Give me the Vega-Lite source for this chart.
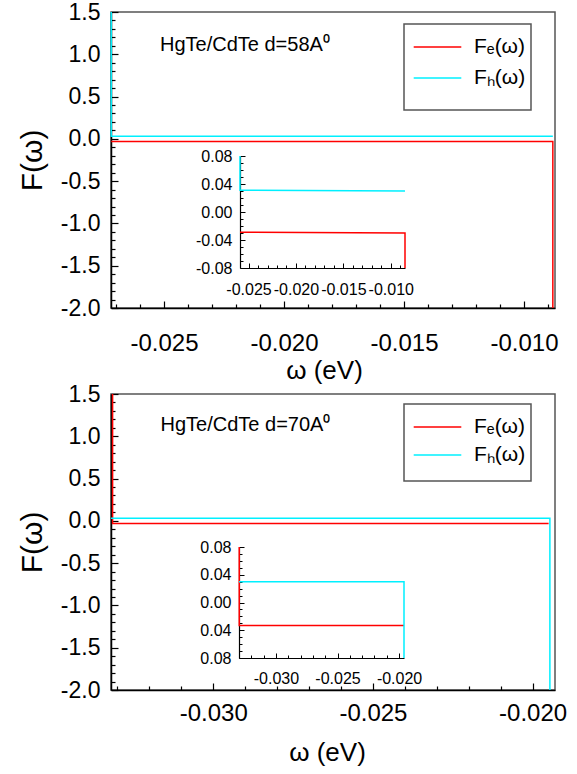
{
  "$schema": "https://vega.github.io/schema/vega-lite/v6.json",
  "padding": {"left": 16, "top": 0, "right": 0, "bottom": 0},
  "background": "white",
  "config": {
    "view": {"stroke": "#555", "strokeWidth": 1.5},
    "font": "Liberation Sans",
    "axis": {"grid": false, "labelColor": "black", "titleColor": "black", "tickColor": "black", "domainColor": "black", "labelOverlap": false, "labelFlush": false, "titleFontWeight": "normal", "labelFont": "Liberation Sans", "titleFont": "Liberation Sans"},
    "legend": {"strokeColor": "#555", "strokeWidth": 1.5, "fillColor": "white", "cornerRadius": 0, "labelFont": "Liberation Sans", "labelColor": "black"}
  },
  "datasets": {
    "lines": [
      {"panel": "d58", "view": "main", "series": "Fe", "i": 0, "omega": -0.0272, "F": -0.03},
      {"panel": "d58", "view": "main", "series": "Fe", "i": 1, "omega": -0.0088, "F": -0.03},
      {"panel": "d58", "view": "main", "series": "Fe", "i": 2, "omega": -0.0088, "F": -2.0},
      {"panel": "d58", "view": "main", "series": "Fh", "i": 0, "omega": -0.0272, "F": 1.5},
      {"panel": "d58", "view": "main", "series": "Fh", "i": 1, "omega": -0.0272, "F": 0.03},
      {"panel": "d58", "view": "main", "series": "Fh", "i": 2, "omega": -0.0088, "F": 0.03},
      {"panel": "d58", "view": "inset", "series": "Fe", "i": 0, "omega": -0.0259, "F": -0.029},
      {"panel": "d58", "view": "inset", "series": "Fe", "i": 1, "omega": -0.0085, "F": -0.03},
      {"panel": "d58", "view": "inset", "series": "Fe", "i": 2, "omega": -0.0085, "F": -0.08},
      {"panel": "d58", "view": "inset", "series": "Fh", "i": 0, "omega": -0.0259, "F": 0.08},
      {"panel": "d58", "view": "inset", "series": "Fh", "i": 1, "omega": -0.0259, "F": 0.031},
      {"panel": "d58", "view": "inset", "series": "Fh", "i": 2, "omega": -0.0085, "F": 0.03},
      {"panel": "d70", "view": "main", "series": "Fe", "i": 0, "omega": -0.03315, "F": 1.5},
      {"panel": "d70", "view": "main", "series": "Fe", "i": 1, "omega": -0.03315, "F": -0.03},
      {"panel": "d70", "view": "main", "series": "Fe", "i": 2, "omega": -0.0195, "F": -0.03},
      {"panel": "d70", "view": "main", "series": "Fh", "i": 0, "omega": -0.0332, "F": 0.03},
      {"panel": "d70", "view": "main", "series": "Fh", "i": 1, "omega": -0.01946, "F": 0.03},
      {"panel": "d70", "view": "main", "series": "Fh", "i": 2, "omega": -0.01946, "F": -2.0},
      {"panel": "d70", "view": "inset", "series": "Fe", "i": 0, "omega": -0.03298, "F": 0.08},
      {"panel": "d70", "view": "inset", "series": "Fe", "i": 1, "omega": -0.03298, "F": -0.033},
      {"panel": "d70", "view": "inset", "series": "Fe", "i": 2, "omega": -0.0196, "F": -0.033},
      {"panel": "d70", "view": "inset", "series": "Fh", "i": 0, "omega": -0.033, "F": 0.03},
      {"panel": "d70", "view": "inset", "series": "Fh", "i": 1, "omega": -0.0196, "F": 0.03},
      {"panel": "d70", "view": "inset", "series": "Fh", "i": 2, "omega": -0.0196, "F": -0.08}
    ],
    "notes": [
      {"panel": "d58", "note": "HgTe/CdTe d=58A⁰"},
      {"panel": "d70", "note": "HgTe/CdTe d=70A⁰"}
    ]
  },
  "spacing": 86,
  "bounds": "flush",
  "resolve": {"scale": {"x": "independent", "y": "independent", "color": "independent", "stroke": "independent"}, "legend": {"color": "independent"}},
  "vconcat": [
    {
      "width": 444,
      "height": 296,
      "resolve": {"scale": {"x": "independent", "y": "independent"}},
      "layer": [
        {
          "data": {"name": "lines"},
          "transform": [{"filter": "datum.panel == 'd58' && datum.view == 'main'"}],
          "mark": {"type": "line", "strokeWidth": 1.5},
          "encoding": {
            "x": {"field": "omega", "type": "quantitative",
              "scale": {"domain": [-0.02721, -0.00871], "nice": false, "zero": false},
              "axis": {"orient": "bottom", "offset": 0, "title": "ω (eV)", "titleFontSize": 26, "titlePadding": 2, "titleX": 213, "titleAlign": "center",
                "values": [-0.025, -0.02, -0.015, -0.01],
                "labelExpr": "'-' + format(abs(datum.value), '.3f')",
                "labelFontSize": 24, "labelPadding": 30.5, "labelDx": -6, "labelOverlap": false, "labelFlush": false,
                "tickSize": -7, "tickWidth": 1.2, "domainWidth": 1.5}},
            "y": {"field": "F", "type": "quantitative",
              "scale": {"domain": [-2, 1.5], "nice": false, "zero": false},
              "axis": {"orient": "left", "offset": 0, "title": "F(ω)", "titleFontSize": 30, "titlePadding": 13,
                "values": [-2, -1.5, -1, -0.5, 0, 0.5, 1, 1.5],
                "labelExpr": "(datum.value < -1e-9 ? '-' : '') + format(abs(datum.value), '.1f')",
                "labelFontSize": 23, "labelPadding": 18, "labelOverlap": false, "labelFlush": false,
                "tickSize": -7, "tickWidth": 1.2, "domainWidth": 1.5}},
            "color": {"field": "series", "type": "nominal",
              "scale": {"domain": ["Fe", "Fh"], "range": ["#ff0000", "#00f0ff"]},
              "legend": {"orient": "none", "legendX": 293, "legendY": 12, "title": " ", "titleOrient": "bottom", "titleFontSize": 2, "titlePadding": 15,
                "symbolType": "M-1.4,0H1.4", "symbolSize": 1156, "symbolStrokeWidth": 1.5, "symbolOffset": 10.5,
                "padding": 5, "rowPadding": 3, "labelFontSize": 21, "labelOffset": 18.5,
                "labelExpr": "datum.label == 'Fe' ? 'Fₑ(ω)' : 'Fₕ(ω)'"}},
            "order": {"field": "i", "type": "quantitative"}
          }
        },
        {
          "data": {"name": "notes"},
          "transform": [{"filter": "datum.panel == 'd58'"}],
          "mark": {"type": "text", "align": "left", "baseline": "alphabetic", "font": "Liberation Sans", "fontSize": 20, "color": "black"},
          "encoding": {
            "x": {"datum": -0.02517, "type": "quantitative", "scale": {"domain": [-0.02721, -0.00871], "nice": false, "zero": false},
              "axis": {"orient": "bottom", "offset": 0, "title": null, "labels": false, "domain": false, "tickSize": -4, "tickWidth": 1.2,
                "values": [-0.027, -0.026, -0.024, -0.023, -0.022, -0.021, -0.019, -0.018, -0.017, -0.016, -0.014, -0.013, -0.012, -0.011, -0.009]}},
            "y": {"datum": 1.04, "type": "quantitative", "scale": {"domain": [-2, 1.5], "nice": false, "zero": false},
              "axis": {"orient": "left", "offset": 0, "title": null, "labels": false, "domain": false, "tickSize": -4, "tickWidth": 1.2,
                "values": [-1.9, -1.8, -1.7, -1.6, -1.4, -1.3, -1.2, -1.1, -0.9, -0.8, -0.7, -0.6, -0.4, -0.3, -0.2, -0.1, 0.1, 0.2, 0.3, 0.4, 0.6, 0.7, 0.8, 0.9, 1.1, 1.2, 1.3, 1.4]}},
            "text": {"field": "note"}
          }
        },
        {
          "data": {"name": "lines"},
          "transform": [{"filter": "datum.panel == 'd58' && datum.view == 'inset'"}],
          "mark": {"type": "line", "strokeWidth": 1.5},
          "encoding": {
            "x": {"field": "omega", "type": "quantitative",
              "scale": {"domain": [-0.0259, -0.0085], "range": [129, 294], "nice": false, "zero": false},
              "axis": {"orient": "bottom", "offset": -40, "title": null,
                "values": [-0.025, -0.02, -0.015, -0.01],
                "labelExpr": "'-' + format(abs(datum.value), '.3f')",
                "labelFontSize": 16, "labelPadding": 18, "labelDx": -4, "labelOverlap": false, "labelFlush": false,
                "tickSize": -5, "tickWidth": 1, "domainWidth": 1.2}},
            "y": {"field": "F", "type": "quantitative",
              "scale": {"domain": [-0.08, 0.08], "range": [256, 144], "nice": false, "zero": false},
              "axis": {"orient": "left", "offset": -129, "title": null,
                "values": [-0.08, -0.04, 0, 0.04, 0.08],
                "labelExpr": "(datum.value < -1e-9 ? '-' : '') + format(abs(datum.value), '.2f')",
                "labelFontSize": 16, "labelPadding": 13, "labelOverlap": false, "labelFlush": false,
                "tickSize": -5, "tickWidth": 1, "domainWidth": 1.2}},
            "stroke": {"field": "series", "type": "nominal",
              "scale": {"domain": ["Fe", "Fh"], "range": ["#ff0000", "#00f0ff"]}, "legend": null},
            "order": {"field": "i", "type": "quantitative"}
          }
        },
        {
          "data": {"name": "notes"},
          "transform": [{"filter": "datum.panel == 'd58'"}],
          "mark": {"type": "text", "text": ""},
          "encoding": {
            "x": {"datum": -0.02, "type": "quantitative", "scale": {"domain": [-0.0259, -0.0085], "range": [129, 294], "nice": false, "zero": false},
              "axis": {"orient": "bottom", "offset": -40, "title": null, "labels": false, "domain": false, "tickSize": -3, "tickWidth": 1,
                "values": [-0.024, -0.023, -0.022, -0.021, -0.019, -0.018, -0.017, -0.016, -0.014, -0.013, -0.012, -0.011, -0.009]}},
            "y": {"datum": 0, "type": "quantitative", "scale": {"domain": [-0.08, 0.08], "range": [256, 144], "nice": false, "zero": false},
              "axis": {"orient": "left", "offset": -129, "title": null, "labels": false, "domain": false, "tickSize": -3, "tickWidth": 1,
                "values": [-0.07, -0.06, -0.05, -0.03, -0.02, -0.01, 0.01, 0.02, 0.03, 0.05, 0.06, 0.07]}}
          }
        }
      ]
    },
    {
      "width": 444,
      "height": 296,
      "resolve": {"scale": {"x": "independent", "y": "independent"}},
      "layer": [
        {
          "data": {"name": "lines"},
          "transform": [{"filter": "datum.panel == 'd70' && datum.view == 'main'"}],
          "mark": {"type": "line", "strokeWidth": 1.5},
          "encoding": {
            "x": {"field": "omega", "type": "quantitative",
              "scale": {"domain": [-0.0332, -0.0193], "nice": false, "zero": false},
              "axis": {"orient": "bottom", "offset": 0, "title": "ω (eV)", "titleFontSize": 26, "titlePadding": 14, "titleX": 216, "titleAlign": "center",
                "values": [-0.03, -0.025, -0.02],
                "labelExpr": "'-' + format(abs(datum.value), '.3f')",
                "labelFontSize": 24, "labelPadding": 18, "labelDx": -6, "labelOverlap": false, "labelFlush": false,
                "tickSize": -7, "tickWidth": 1.2, "domainWidth": 1.5}},
            "y": {"field": "F", "type": "quantitative",
              "scale": {"domain": [-2, 1.5], "nice": false, "zero": false},
              "axis": {"orient": "left", "offset": 0, "title": "F(ω)", "titleFontSize": 30, "titlePadding": 13,
                "values": [-2, -1.5, -1, -0.5, 0, 0.5, 1, 1.5],
                "labelExpr": "(datum.value < -1e-9 ? '-' : '') + format(abs(datum.value), '.1f')",
                "labelFontSize": 23, "labelPadding": 18, "labelOverlap": false, "labelFlush": false,
                "tickSize": -7, "tickWidth": 1.2, "domainWidth": 1.5}},
            "color": {"field": "series", "type": "nominal",
              "scale": {"domain": ["Fe", "Fh"], "range": ["#ff0000", "#00f0ff"]},
              "legend": {"orient": "none", "legendX": 293, "legendY": 10, "title": " ", "titleOrient": "bottom", "titleFontSize": 2, "titlePadding": 9,
                "symbolType": "M-1.4,0H1.4", "symbolSize": 1156, "symbolStrokeWidth": 1.5, "symbolOffset": 10.5,
                "padding": 5, "rowPadding": 0, "labelFontSize": 21, "labelOffset": 18.5,
                "labelExpr": "datum.label == 'Fe' ? 'Fₑ(ω)' : 'Fₕ(ω)'"}},
            "order": {"field": "i", "type": "quantitative"}
          }
        },
        {
          "data": {"name": "notes"},
          "transform": [{"filter": "datum.panel == 'd70'"}],
          "mark": {"type": "text", "align": "left", "baseline": "alphabetic", "font": "Liberation Sans", "fontSize": 20, "color": "black"},
          "encoding": {
            "x": {"datum": -0.03165, "type": "quantitative", "scale": {"domain": [-0.0332, -0.0193], "nice": false, "zero": false},
              "axis": {"orient": "bottom", "offset": 0, "title": null, "labels": false, "domain": false, "tickSize": -4, "tickWidth": 1.2,
                "values": [-0.033, -0.032, -0.031, -0.029, -0.028, -0.027, -0.026, -0.024, -0.023, -0.022, -0.021]}},
            "y": {"datum": 1.058, "type": "quantitative", "scale": {"domain": [-2, 1.5], "nice": false, "zero": false},
              "axis": {"orient": "left", "offset": 0, "title": null, "labels": false, "domain": false, "tickSize": -4, "tickWidth": 1.2,
                "values": [-1.9, -1.8, -1.7, -1.6, -1.4, -1.3, -1.2, -1.1, -0.9, -0.8, -0.7, -0.6, -0.4, -0.3, -0.2, -0.1, 0.1, 0.2, 0.3, 0.4, 0.6, 0.7, 0.8, 0.9, 1.1, 1.2, 1.3, 1.4]}},
            "text": {"field": "note"}
          }
        },
        {
          "data": {"name": "lines"},
          "transform": [{"filter": "datum.panel == 'd70' && datum.view == 'inset'"}],
          "mark": {"type": "line", "strokeWidth": 1.5},
          "encoding": {
            "x": {"field": "omega", "type": "quantitative",
              "scale": {"domain": [-0.033, -0.0196], "range": [128, 293], "nice": false, "zero": false},
              "axis": {"orient": "bottom", "offset": -32, "title": null,
                "values": [-0.03, -0.025, -0.02],
                "labelExpr": "'-' + format(abs(datum.value), '.3f')",
                "labelFontSize": 16, "labelPadding": 17, "labelDx": -4, "labelOverlap": false, "labelFlush": false,
                "tickSize": -5, "tickWidth": 1, "domainWidth": 1.2}},
            "y": {"field": "F", "type": "quantitative",
              "scale": {"domain": [-0.08, 0.08], "range": [264, 153], "nice": false, "zero": false},
              "axis": {"orient": "left", "offset": -128, "title": null,
                "values": [-0.08, -0.04, 0, 0.04, 0.08],
                "labelExpr": "format(abs(datum.value), '.2f')",
                "labelFontSize": 16, "labelPadding": 13, "labelOverlap": false, "labelFlush": false,
                "tickSize": -5, "tickWidth": 1, "domainWidth": 1.2}},
            "stroke": {"field": "series", "type": "nominal",
              "scale": {"domain": ["Fe", "Fh"], "range": ["#ff0000", "#00f0ff"]}, "legend": null},
            "order": {"field": "i", "type": "quantitative"}
          }
        },
        {
          "data": {"name": "notes"},
          "transform": [{"filter": "datum.panel == 'd70'"}],
          "mark": {"type": "text", "text": ""},
          "encoding": {
            "x": {"datum": -0.025, "type": "quantitative", "scale": {"domain": [-0.033, -0.0196], "range": [128, 293], "nice": false, "zero": false},
              "axis": {"orient": "bottom", "offset": -32, "title": null, "labels": false, "domain": false, "tickSize": -3, "tickWidth": 1,
                "values": [-0.033, -0.032, -0.031, -0.029, -0.028, -0.027, -0.026, -0.024, -0.023, -0.022, -0.021]}},
            "y": {"datum": 0, "type": "quantitative", "scale": {"domain": [-0.08, 0.08], "range": [264, 153], "nice": false, "zero": false},
              "axis": {"orient": "left", "offset": -128, "title": null, "labels": false, "domain": false, "tickSize": -3, "tickWidth": 1,
                "values": [-0.07, -0.06, -0.05, -0.03, -0.02, -0.01, 0.01, 0.02, 0.03, 0.05, 0.06, 0.07]}}
          }
        }
      ]
    }
  ]
}
